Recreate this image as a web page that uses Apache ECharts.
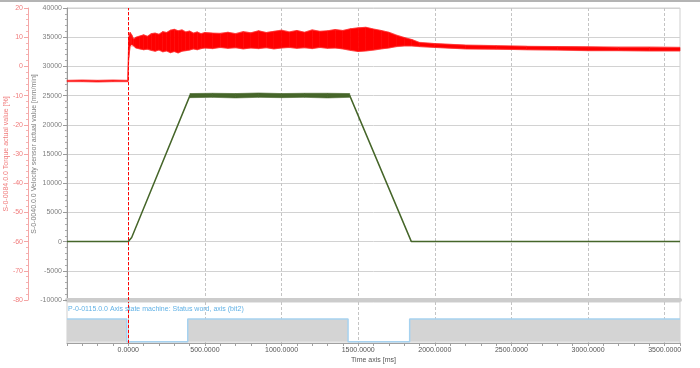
<!DOCTYPE html>
<html><head><meta charset="utf-8">
<script src="https://cdn.jsdelivr.net/npm/echarts@6/dist/echarts.min.js"></script>
<style>html,body{margin:0;padding:0;background:#fff}#c{width:700px;height:368px}</style>
</head><body><div id="c"></div>
<script>
// ---- data (time in ms) ----
const xTickLabels = [0, 500, 1000, 1500, 2000, 2500, 3000, 3500];

const velTime  = [-400, 0, 22, 402, 1445, 1847, 3600];
const velValue = [0, 0, 700, 25000, 25000, 0, 0];

const plateauTime = [402, 550, 700, 850, 1000, 1150, 1300, 1445];
const plateauLow  = [24650, 24700, 24600, 24700, 24650, 24700, 24600, 24700];
const plateauHigh = [25350, 25400, 25350, 25450, 25350, 25400, 25400, 25350];

const torqueTime = [-400, -300, -200, -100, -3, 3, 12, 22, 35, 50, 75, 100, 125, 150, 175, 200, 225, 250, 275, 300, 325, 350, 375, 400, 425, 450, 475, 500,
  550, 600, 650, 700, 750, 800, 850, 900, 950, 1000, 1050, 1100, 1150, 1200, 1250, 1300, 1350, 1400, 1450, 1500, 1550, 1600, 1650, 1700, 1750, 1800, 1850,
  1900, 2000, 2200, 2400, 2600, 2800, 3000, 3200, 3400, 3600];
const torqueLow = [-5.2, -5.2, -5.3, -5.2, -5.2, 3.0, 7.0, 7.6, 7.0, 6.3, 6.0, 5.7, 5.9, 5.5, 5.2, 5.6, 5.0, 5.3, 4.7, 5.1, 4.6, 5.2, 5.4, 5.6, 6.0, 5.7, 6.1, 6.3,
  6.1, 6.5, 6.2, 6.4, 6.0, 6.3, 6.1, 6.4, 6.0, 6.3, 6.5, 6.2, 6.4, 6.1, 6.5, 6.2, 6.3, 6.0, 5.5, 5.1, 5.3, 5.6, 6.0, 6.3, 6.8, 7.0, 7.0,
  6.8, 6.5, 6.0, 5.9, 5.7, 5.6, 5.4, 5.4, 5.3, 5.3];
const torqueHigh = [-4.8, -4.7, -4.8, -4.7, -4.8, 10.0, 11.6, 10.8, 9.4, 10.0, 10.4, 10.8, 10.3, 11.2, 11.4, 11.0, 11.9, 11.6, 12.4, 12.7, 12.2, 12.5, 11.8, 12.1, 11.4, 11.8, 11.2, 11.6,
  11.4, 11.3, 11.7, 11.2, 11.9, 11.5, 12.2, 11.6, 12.0, 12.4, 11.8, 12.3, 11.7, 12.5, 12.0, 12.2, 12.6, 12.3, 12.9, 13.2, 13.4, 12.8, 12.3, 11.7, 10.7, 9.9, 9.2,
  8.2, 7.8, 7.3, 7.1, 6.9, 6.8, 6.7, 6.6, 6.6, 6.5];

const statusTime  = [-400, -10, 388, 1434, 1836, 3600];
const statusValue = [1, 0, 1, 0, 1, 1];

// ---- build ----
const pairs = (t, v) => t.map((x, i) => [x, v[i]]);
// band segments: [t0, lo0, hi0, t1, lo1, hi1]
const segs = (t, lo, hi) => t.slice(0, -1).map((x, i) => [x, lo[i], hi[i], t[i + 1], lo[i + 1], hi[i + 1]]);
const bandSeries = (name, yIdx, t, lo, hi, color, z) => ({
  name, type: 'custom', xAxisIndex: 0, yAxisIndex: yIdx, z, silent: true,
  encode: { x: [0, 3], y: [1, 2, 4, 5] },
  data: segs(t, lo, hi),
  renderItem: (params, api) => {
    const a = api.coord([api.value(0), api.value(1)]);
    const b = api.coord([api.value(3), api.value(4)]);
    const c = api.coord([api.value(3), api.value(5)]);
    const d = api.coord([api.value(0), api.value(2)]);
    return { type: 'polygon', shape: { points: [a, b, c, d] },
      style: { fill: color, stroke: color, lineWidth: 0.6 } };
  }
});
const FONT = 'Liberation Sans, Arial, sans-serif';
const zeroMark = {
  silent: true, symbol: 'none', label: { show: false },
  lineStyle: { color: '#ff0000', type: [3, 2], width: 1 },
  data: [{ xAxis: 0 }]
};
const plain = v => String(v);

const chart = echarts.init(document.getElementById('c'), null, { renderer: 'canvas' });
chart.setOption({
  animation: false,
  backgroundColor: '#ffffff',
  textStyle: { fontFamily: FONT },
  graphic: [{ type: 'rect', shape: { x: 0, y: 0, width: 700, height: 2 }, style: { fill: '#b4b4b4' }, silent: true }],
  title: {
    text: 'P-0-0115.0.0 Axis state machine: Status word, axis (bit2)',
    left: 68, top: 306, padding: 0,
    textStyle: { fontSize: 7, fontWeight: 'normal', color: '#62b2e6', fontFamily: FONT }
  },
  grid: [
    { left: 67, right: 20, top: 8, height: 292, show: true, borderColor: '#cfcfcf', borderWidth: 1, outerBoundsMode: 'none', containLabel: false },
    { left: 67, right: 20, top: 302, height: 41, show: true, borderColor: '#cfcfcf', borderWidth: 1, outerBoundsMode: 'none', containLabel: false }
  ],
  xAxis: [
    { gridIndex: 0, type: 'value', min: -400, max: 3600, interval: 100,
      axisLine: { show: true, onZero: false, lineStyle: { color: '#cccccc', width: 4 } },
      axisTick: { show: true, length: 0, customValues: xTickLabels },
      axisLabel: { show: false },
      splitLine: { show: true, lineStyle: { color: '#c4c4c4', type: [3, 2], width: 1 } } },
    { gridIndex: 1, type: 'value', min: -400, max: 3600, interval: 100, position: 'bottom',
      axisLine: { show: true, onZero: false, lineStyle: { color: '#a0a0a0', width: 1 } },
      axisTick: { show: true, length: 3, lineStyle: { color: '#a0a0a0' } },
      axisLabel: { customValues: xTickLabels, formatter: v => v.toFixed(4), fontSize: 7, color: '#555', margin: 4, fontFamily: FONT },
      splitLine: { show: false },
      name: 'Time axis [ms]', nameLocation: 'middle', nameGap: 14, nameMoveOverlap: false,
      nameTextStyle: { fontSize: 7, color: '#555', fontFamily: FONT } },
    { gridIndex: 1, type: 'value', min: -400, max: 3600, interval: 100, position: 'top',
      axisLine: { show: false },
      axisTick: { show: true, length: 0, customValues: xTickLabels },
      axisLabel: { show: false },
      splitLine: { show: true, lineStyle: { color: '#c4c4c4', type: [3, 2], width: 1 } } }
  ],
  yAxis: [
    { gridIndex: 0, type: 'value', position: 'left', offset: 0, min: -10000, max: 40000, interval: 5000,
      axisLine: { show: true, onZero: false, lineStyle: { color: '#9a9a9a' } },
      axisTick: { show: true, length: 4, lineStyle: { color: '#9a9a9a' } },
      minorTick: { show: true, splitNumber: 5, length: 2, lineStyle: { color: '#aaaaaa' } },
      axisLabel: { fontSize: 7, color: '#808080', margin: 5, fontFamily: FONT, formatter: plain },
      splitLine: { show: true, lineStyle: { color: '#d2d2d2', width: 1 } },
      name: 'S-0-0040.0.0 Velocity sensor actual value [mm/min]', nameLocation: 'middle', nameGap: 29.5, nameMoveOverlap: false,
      nameTextStyle: { fontSize: 7, color: '#808080', fontFamily: FONT } },
    { gridIndex: 0, type: 'value', position: 'left', offset: 39, min: -80, max: 20, interval: 10,
      axisLine: { show: true, onZero: false, lineStyle: { color: '#f4a6a6' } },
      axisTick: { show: true, length: 4, lineStyle: { color: '#f4a6a6' } },
      minorTick: { show: true, splitNumber: 5, length: 2, lineStyle: { color: '#f6b4b4' } },
      axisLabel: { fontSize: 7, color: '#f07c7c', margin: 5, fontFamily: FONT, formatter: plain },
      splitLine: { show: false },
      name: 'S-0-0084.0.0 Torque actual value [%]', nameLocation: 'middle', nameGap: 18, nameMoveOverlap: false,
      nameTextStyle: { fontSize: 7, color: '#f07c7c', fontFamily: FONT } },
    { gridIndex: 1, type: 'value', min: -0.05, max: 1.75, show: false }
  ],
  series: [
    { name: 'velocity', type: 'line', xAxisIndex: 0, yAxisIndex: 0, showSymbol: false, z: 3,
      data: pairs(velTime, velValue),
      lineStyle: { color: '#46662a', width: 1.5 }, itemStyle: { color: '#46662a' },
      markLine: zeroMark },
    bandSeries('velBand', 0, plateauTime, plateauLow, plateauHigh, '#46662a', 3),
    bandSeries('torqueBand', 1, torqueTime, torqueLow, torqueHigh, '#ff0000', 4),
    { name: 'torqueLow', type: 'line', xAxisIndex: 0, yAxisIndex: 1, showSymbol: false, z: 4,
      data: pairs(torqueTime, torqueLow),
      lineStyle: { color: '#ff4040', width: 1.2, opacity: 0.45 } },
    { name: 'torqueHigh', type: 'line', xAxisIndex: 0, yAxisIndex: 1, showSymbol: false, z: 4,
      data: pairs(torqueTime, torqueHigh),
      lineStyle: { color: '#ff4040', width: 1.2, opacity: 0.45 } },
    { name: 'status', type: 'line', xAxisIndex: 1, yAxisIndex: 2, step: 'end', showSymbol: false, z: 3,
      data: pairs(statusTime, statusValue),
      lineStyle: { color: '#a6d2f0', width: 1.5 },
      areaStyle: { color: '#d4d4d4', opacity: 1 },
      markLine: zeroMark }
  ]
});
</script></body></html>
